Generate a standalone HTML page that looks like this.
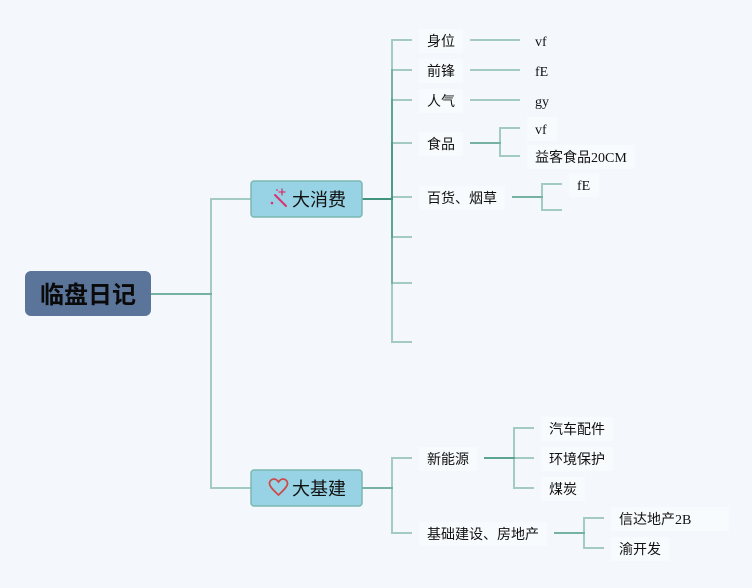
<!DOCTYPE html>
<html><head><meta charset="utf-8"><style>
html,body{margin:0;padding:0;background:#f4f8fd;}
svg{display:block;}
.t{font-family:"Liberation Serif","Noto Sans CJK SC",serif;font-size:14px;fill:#111;}
.c{font-family:"Liberation Sans","Noto Sans CJK SC",sans-serif;font-size:14px;fill:#111;}
.l{fill:none;stroke:rgb(64,146,124);stroke-opacity:0.45;stroke-width:2;}
.bg{fill:#f8fbfe;}
</style></head><body>
<svg width="752" height="588" viewBox="0 0 752 588" xmlns="http://www.w3.org/2000/svg">
<rect width="752" height="588" fill="#f4f8fd"/>
<!-- text backgrounds -->
<rect class="bg" x="419" y="29" width="44" height="24"/>
<rect class="bg" x="419" y="59" width="44" height="24"/>
<rect class="bg" x="419" y="89" width="44" height="24"/>
<rect class="bg" x="419" y="132" width="44" height="24"/>
<rect class="bg" x="419" y="186" width="86" height="24"/>
<rect class="bg" x="527" y="117" width="30" height="24"/>
<rect class="bg" x="527" y="145" width="108" height="24"/>
<rect class="bg" x="569" y="173" width="30" height="24"/>
<rect class="bg" x="419" y="447" width="58" height="24"/>
<rect class="bg" x="419" y="522" width="128" height="24"/>
<rect class="bg" x="541" y="417" width="72" height="24"/>
<rect class="bg" x="541" y="447" width="72" height="24"/>
<rect class="bg" x="541" y="477" width="44" height="24"/>
<rect class="bg" x="611" y="507" width="118" height="24"/>
<rect class="bg" x="611" y="537" width="58" height="24"/>

<!-- root connectors -->
<path class="l" d="M151,294 H211 V199 H251"/>
<path class="l" d="M151,294 H211 V488 H251"/>
<!-- 大消费 connectors -->
<path class="l" d="M362,199 H392 V40 H412"/>
<path class="l" d="M362,199 H392 V70 H412"/>
<path class="l" d="M362,199 H392 V100 H412"/>
<path class="l" d="M362,199 H392 V143 H412"/>
<path class="l" d="M362,199 H392 V197 H412"/>
<path class="l" d="M362,199 H392 V237 H412"/>
<path class="l" d="M362,199 H392 V283 H412"/>
<path class="l" d="M362,199 H392 V342 H412"/>
<!-- level 2 -> 3 -->
<path class="l" d="M470,40 H520"/>
<path class="l" d="M470,70 H520"/>
<path class="l" d="M470,100 H520"/>
<path class="l" d="M470,143 H500 V128 H520"/>
<path class="l" d="M470,143 H500 V156 H520"/>
<path class="l" d="M512,197 H542 V184 H562"/>
<path class="l" d="M512,197 H542 V210 H562"/>
<!-- 大基建 connectors -->
<path class="l" d="M362,488 H392 V458 H412"/>
<path class="l" d="M362,488 H392 V533 H412"/>
<path class="l" d="M484,458 H514 V428 H534"/>
<path class="l" d="M484,458 H514 V458 H534"/>
<path class="l" d="M484,458 H514 V488 H534"/>
<path class="l" d="M554,533 H584 V518 H604"/>
<path class="l" d="M554,533 H584 V548 H604"/>

<!-- root -->
<rect x="25" y="271" width="126" height="45" rx="6" fill="#5b7499"/>
<text x="88" y="303" text-anchor="middle" font-family="Liberation Sans, Noto Sans CJK SC, sans-serif" font-size="24" font-weight="bold" fill="#0a0a0a">临盘日记</text>

<!-- 大消费 -->
<rect x="251" y="181" width="111" height="36" rx="3" fill="#97d3e5" stroke="#7bb8b2" stroke-width="1.5"/>
<g stroke="#d8336e" stroke-width="2" stroke-linecap="round" fill="#d8336e">
<line x1="275" y1="195" x2="286" y2="206"/>
<line x1="282" y1="189" x2="282" y2="195" stroke-width="1.3"/>
<line x1="279" y1="192" x2="285" y2="192" stroke-width="1.3"/>
<circle cx="272" cy="203" r="1.3" stroke="none"/>
<circle cx="277" cy="190" r="0.9" stroke="none"/>
</g>
<text x="292" y="206" font-family="Liberation Sans, Noto Sans CJK SC, sans-serif" font-size="18" fill="#111">大消费</text>

<!-- 大基建 -->
<rect x="251" y="470" width="111" height="36" rx="3" fill="#97d3e5" stroke="#7bb8b2" stroke-width="1.5"/>
<path d="M278.5,495 C272,489 269.5,486 269.5,483.5 C269.5,480.5 272,479 274,479 C276,479 277.5,480.5 278.5,482 C279.5,480.5 281,479 283,479 C285,479 287.5,480.5 287.5,483.5 C287.5,486 285,489 278.5,495 Z" fill="none" stroke="#cc4a48" stroke-width="1.7"/>
<text x="292" y="495" font-family="Liberation Sans, Noto Sans CJK SC, sans-serif" font-size="18" fill="#111">大基建</text>

<!-- level 2 texts -->
<text class="c" x="427" y="46">身位</text>
<text class="c" x="427" y="76">前锋</text>
<text class="c" x="427" y="106">人气</text>
<text class="c" x="427" y="149">食品</text>
<text class="c" x="427" y="203">百货、烟草</text>
<text class="c" x="427" y="464">新能源</text>
<text class="c" x="427" y="539">基础建设、房地产</text>

<!-- level 3 texts -->
<text class="t" x="535" y="46">vf</text>
<text class="t" x="535" y="76">fE</text>
<text class="t" x="535" y="106">gy</text>
<text class="t" x="535" y="134">vf</text>
<text class="t" x="535" y="162">益客食品20CM</text>
<text class="t" x="577" y="190">fE</text>
<text class="c" x="549" y="434">汽车配件</text>
<text class="c" x="549" y="464">环境保护</text>
<text class="c" x="549" y="494">煤炭</text>
<text class="t" x="619" y="524">信达地产2B</text>
<text class="c" x="619" y="554">渝开发</text>
</svg>
</body></html>
